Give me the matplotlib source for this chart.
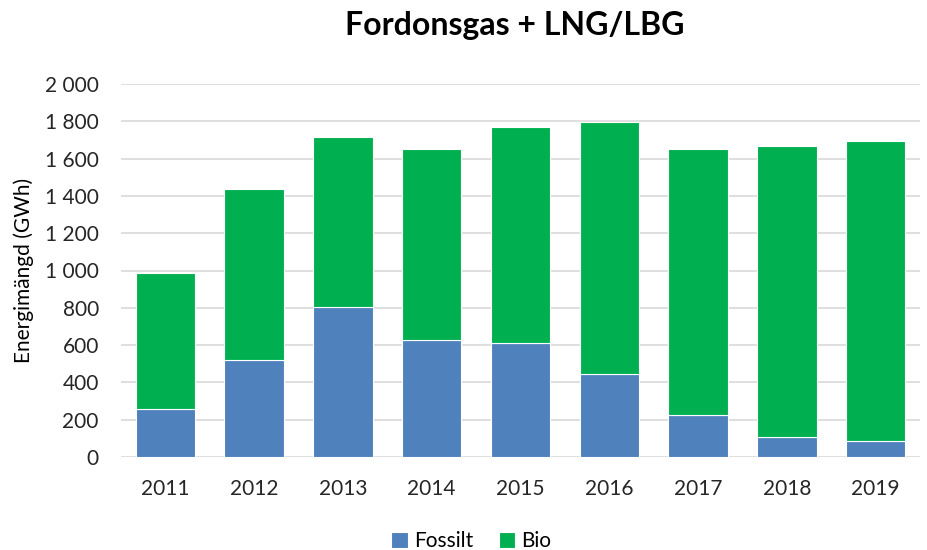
import matplotlib
matplotlib.use("Agg")
import matplotlib.pyplot as plt
from matplotlib.ticker import FuncFormatter, MultipleLocator

years = ["2011", "2012", "2013", "2014", "2015", "2016", "2017", "2018", "2019"]
fossilt = [259, 521, 803, 626, 610, 445, 224, 107, 88]
bio = [730, 917, 911, 1027, 1159, 1353, 1429, 1558, 1604]

plt.rcParams['font.family'] = ['Lato', 'DejaVu Sans']

fig = plt.figure(figsize=(9.28, 5.5), dpi=100)
ax = fig.add_axes([121/928, 1 - 457/550, (920-121)/928, (457-84)/550])

x = list(range(len(years)))
ax.bar(x, fossilt, width=0.67, color="#4f81bd", edgecolor="white", linewidth=0.8, label="Fossilt", zorder=3)
ax.bar(x, bio, bottom=fossilt, width=0.67, color="#00b050", edgecolor="white", linewidth=0.8, label="Bio", zorder=3)

ax.set_xlim(-0.5, len(years) - 0.5)
ax.set_ylim(0, 2000)
ax.yaxis.set_major_locator(MultipleLocator(200))
ax.yaxis.set_major_formatter(FuncFormatter(lambda v, p: f"{int(v):,}".replace(",", " ")))
ax.set_xticks(x)
ax.set_xticklabels(years)
ax.grid(axis="y", color="#d9d9d9", linewidth=1.2, zorder=0)
for s in ax.spines.values():
    s.set_visible(False)
ax.tick_params(axis="both", length=0, labelsize=15, colors="#262626")
ax.tick_params(axis="x", pad=16)
ax.tick_params(axis="y", pad=16)
ax.set_ylabel("Energimängd (GWh)", fontsize=15, color="#000000", labelpad=8)

fig.suptitle("Fordonsgas + LNG/LBG", x=0.555, y=0.98, fontsize=23, fontweight="bold")

fig.legend(loc="center", bbox_to_anchor=(0.508, 1 - 541/550), ncol=2, frameon=False,
           fontsize=15, handlelength=0.8, handleheight=0.8, handletextpad=0.3, columnspacing=1.2)

fig.savefig("out.png", dpi=100)
